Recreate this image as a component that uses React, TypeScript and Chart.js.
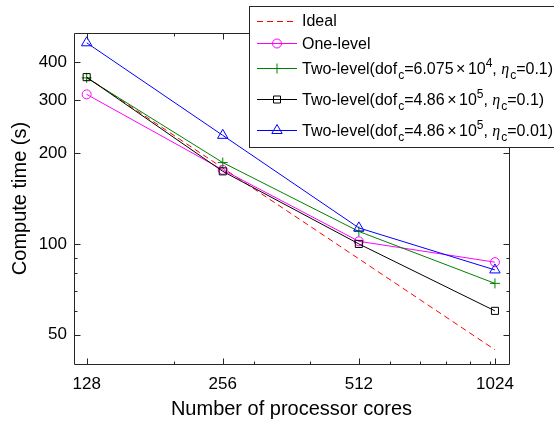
import React, { useEffect, useRef } from "react";
import { Chart, registerables } from "chart.js";

Chart.register(...registerables);

const cores = [128, 256, 512, 1024];
const ideal = [357, 178.5, 89.25, 44.6];
const oneLevel = [313, 176, 102, 87];
const twoLevelA = [355, 186, 110, 74];
const twoLevelB = [357, 174, 100, 60];
const twoLevelC = [464, 229, 113, 82];

const xTicks = [128, 256, 512, 1024];
const xMinor = [200, 300, 400, 600, 700, 800, 900, 1000];
const yTicks = [50, 100, 200, 300, 400];
const yMinor = [60, 70, 80, 90];

const FONT = "'Liberation Sans', Arial, Helvetica, sans-serif";
const AX = "#262626";

type Seg = { t: string; k?: "sub" | "sup" | "it" | "times" | "n" };

const legendRows: { color: string; dash?: number[]; marker?: string; segs: Seg[] }[] = [
  { color: "#ff0000", dash: [6, 4], segs: [{ t: "Ideal" }] },
  { color: "#ff00ff", marker: "circle", segs: [{ t: "One-level" }] },
  {
    color: "#008000",
    marker: "cross",
    segs: [
      { t: "Two-level(dof" }, { t: "c", k: "sub" }, { t: "=6.075" }, { t: "\u00d7", k: "times" }, { t: "10" }, { t: "4", k: "sup" },
      { t: ", " }, { t: "\u03b7", k: "it" }, { t: "c", k: "sub" }, { t: "=0.1)" },
    ],
  },
  {
    color: "#000000",
    marker: "rect",
    segs: [
      { t: "Two-level(dof" }, { t: "c", k: "sub" }, { t: "=4.86" }, { t: "\u00d7", k: "times" }, { t: "10" }, { t: "5", k: "sup" },
      { t: ", " }, { t: "\u03b7", k: "it" }, { t: "c", k: "sub" }, { t: "=0.1)" },
    ],
  },
  {
    color: "#0000ff",
    marker: "triangle",
    segs: [
      { t: "Two-level(dof" }, { t: "c", k: "sub" }, { t: "=4.86" }, { t: "\u00d7", k: "times" }, { t: "10" }, { t: "5", k: "sup" },
      { t: ", " }, { t: "\u03b7", k: "it" }, { t: "c", k: "sub" }, { t: "=0.01)" },
    ],
  },
];
const legendRowY = [20.7, 43.3, 68, 99, 130];

function drawMarker(ctx: CanvasRenderingContext2D, type: string, x: number, y: number, color: string) {
  ctx.save();
  ctx.strokeStyle = color;
  ctx.lineWidth = 1;
  ctx.setLineDash([]);
  ctx.beginPath();
  if (type === "circle") {
    ctx.arc(x, y, 4.5, 0, Math.PI * 2);
  } else if (type === "cross") {
    ctx.moveTo(x - 5, y); ctx.lineTo(x + 5, y);
    ctx.moveTo(x, y - 5); ctx.lineTo(x, y + 5);
  } else if (type === "rect") {
    ctx.rect(x - 3.5, y - 3.5, 7, 7);
  } else if (type === "triangle") {
    const r = 6;
    ctx.moveTo(x, y - r);
    ctx.lineTo(x + r * 0.866, y + r * 0.5);
    ctx.lineTo(x - r * 0.866, y + r * 0.5);
    ctx.closePath();
  }
  ctx.stroke();
  ctx.restore();
}

const boxPlugin = {
  id: "matlabBox",
  afterDatasetsDraw(chart: any) {
    const ctx: CanvasRenderingContext2D = chart.ctx;
    const { left, right, top, bottom } = chart.chartArea;
    const xs = chart.scales.x;
    const ys = chart.scales.y;
    ctx.save();
    ctx.strokeStyle = AX;
    ctx.lineWidth = 1;
    ctx.beginPath();
    const L = Math.round(left) + 0.5, R = Math.round(right) + 0.5;
    const T = Math.round(top) + 0.5, B = Math.round(bottom) + 0.5;
    ctx.rect(L, T, R - L, B - T);
    const tick = (v: number, len: number, horiz: boolean) => {
      if (horiz) {
        const p = Math.round(xs.getPixelForValue(v)) + 0.5;
        ctx.moveTo(p, B); ctx.lineTo(p, B - len);
        ctx.moveTo(p, T); ctx.lineTo(p, T + len);
      } else {
        const p = Math.round(ys.getPixelForValue(v)) + 0.5;
        ctx.moveTo(L, p); ctx.lineTo(L + len, p);
        ctx.moveTo(R, p); ctx.lineTo(R - len, p);
      }
    };
    xTicks.forEach((v) => tick(v, 6, true));
    xMinor.forEach((v) => tick(v, 3, true));
    yTicks.forEach((v) => tick(v, 6, false));
    yMinor.forEach((v) => tick(v, 3, false));
    ctx.stroke();
    ctx.restore();
  },
  afterDraw(chart: any) {
    const ctx: CanvasRenderingContext2D = chart.ctx;
    ctx.save();
    ctx.fillStyle = "#ffffff";
    ctx.fillRect(249.5, 6.5, 320, 141);
    ctx.strokeStyle = AX;
    ctx.lineWidth = 1;
    ctx.strokeRect(249.5, 6.5, 320, 141);
    legendRows.forEach((row, i) => {
      const y = legendRowY[i];
      ctx.save();
      ctx.strokeStyle = row.color;
      ctx.lineWidth = 1;
      ctx.setLineDash(row.dash || []);
      ctx.beginPath();
      ctx.moveTo(257, Math.round(y) + 0.5);
      ctx.lineTo(297, Math.round(y) + 0.5);
      ctx.stroke();
      ctx.restore();
      if (row.marker) drawMarker(ctx, row.marker, 277, Math.round(y) + 0.5, row.color);
      let x = 302;
      const base = y + 5.7;
      ctx.fillStyle = "#000000";
      ctx.textBaseline = "alphabetic";
      ctx.textAlign = "left";
      row.segs.forEach((s) => {
        let yy = base;
        let padL = 0, padR = 0;
        if (s.k === "sub") {
          ctx.font = `12px ${FONT}`;
          yy = base + 5;
          padL = 1;
        } else if (s.k === "sup") {
          ctx.font = `12px ${FONT}`;
          yy = base - 7;
        } else if (s.k === "it") {
          ctx.font = `italic 16px 'Liberation Serif', 'DejaVu Serif', serif`;
        } else if (s.k === "times") {
          ctx.font = `16px ${FONT}`;
          padL = 2.5; padR = 2.5;
        } else {
          ctx.font = `16px ${FONT}`;
        }
        x += padL;
        ctx.fillText(s.t, x, yy);
        x += ctx.measureText(s.t).width + padR;
      });
    });
    ctx.restore();
  },
};

function mk(vals: number[]) {
  return cores.map((c, i) => ({ x: c, y: vals[i] }));
}

export default function App() {
  const ref = useRef<HTMLCanvasElement | null>(null);
  useEffect(() => {
    if (!ref.current) return;
    const common = {
      borderWidth: 1,
      pointBorderWidth: 1,
      pointBackgroundColor: "rgba(0,0,0,0)",
      fill: false,
      tension: 0,
    };
    const chart = new Chart(ref.current, {
      type: "line",
      data: {
        datasets: [
          { ...common, label: "Ideal", data: mk(ideal), borderColor: "#ff0000", borderDash: [6, 4], pointRadius: 0, order: 5 },
          { ...common, label: "One-level", data: mk(oneLevel), borderColor: "#ff00ff", pointBorderColor: "#ff00ff", pointStyle: "circle", pointRadius: 4.5, order: 4 },
          { ...common, label: "A", data: mk(twoLevelA), borderColor: "#008000", pointBorderColor: "#008000", pointStyle: "cross", pointRadius: 5, order: 3 },
          { ...common, label: "B", data: mk(twoLevelB), borderColor: "#000000", pointBorderColor: "#000000", pointStyle: "rect", pointRadius: 5, order: 2 },
          { ...common, label: "C", data: mk(twoLevelC), borderColor: "#0000ff", pointBorderColor: "#0000ff", pointStyle: "triangle", pointRadius: 6, order: 1 },
        ] as any,
      },
      options: {
        responsive: false,
        animation: false,
        devicePixelRatio: 1,
        layout: { padding: { top: 33, right: 45, left: 0, bottom: 0 } },
        plugins: { legend: { display: false }, tooltip: { enabled: false } },
        scales: {
          x: {
            type: "logarithmic",
            min: 120,
            max: 1100,
            grid: { display: false, drawTicks: false },
            border: { display: false },
            afterBuildTicks: (s: any) => { s.ticks = xTicks.map((v) => ({ value: v })); },
            afterFit: (s: any) => { s.height = 60; },
            ticks: {
              autoSkip: false,
              maxRotation: 0,
              padding: 10,
              color: "#000",
              font: { size: 17, family: FONT },
              callback: (v: any) => String(v),
            },
            title: {
              display: true,
              text: "Number of processor cores",
              color: "#000",
              font: { size: 20, family: FONT },
              padding: { top: 0, bottom: 3 },
            },
          },
          y: {
            type: "logarithmic",
            min: 40,
            max: 500,
            grid: { display: false, drawTicks: false },
            border: { display: false },
            afterBuildTicks: (s: any) => { s.ticks = yTicks.map((v) => ({ value: v })); },
            afterFit: (s: any) => { s.width = 74; },
            ticks: {
              autoSkip: false,
              padding: 7,
              color: "#000",
              font: { size: 17, family: FONT },
              callback: (v: any) => String(v),
            },
            title: {
              display: true,
              text: "Compute time (s)",
              color: "#000",
              font: { size: 20, family: FONT },
              padding: { top: 8, bottom: 0 },
            },
          },
        },
      } as any,
      plugins: [boxPlugin],
    });
    return () => chart.destroy();
  }, []);
  return (
    <div style={{ position: "absolute", left: 0, top: 0, width: 554, height: 424, background: "#fff" }}>
      <canvas ref={ref} width={554} height={424} style={{ display: "block" }} />
    </div>
  );
}
